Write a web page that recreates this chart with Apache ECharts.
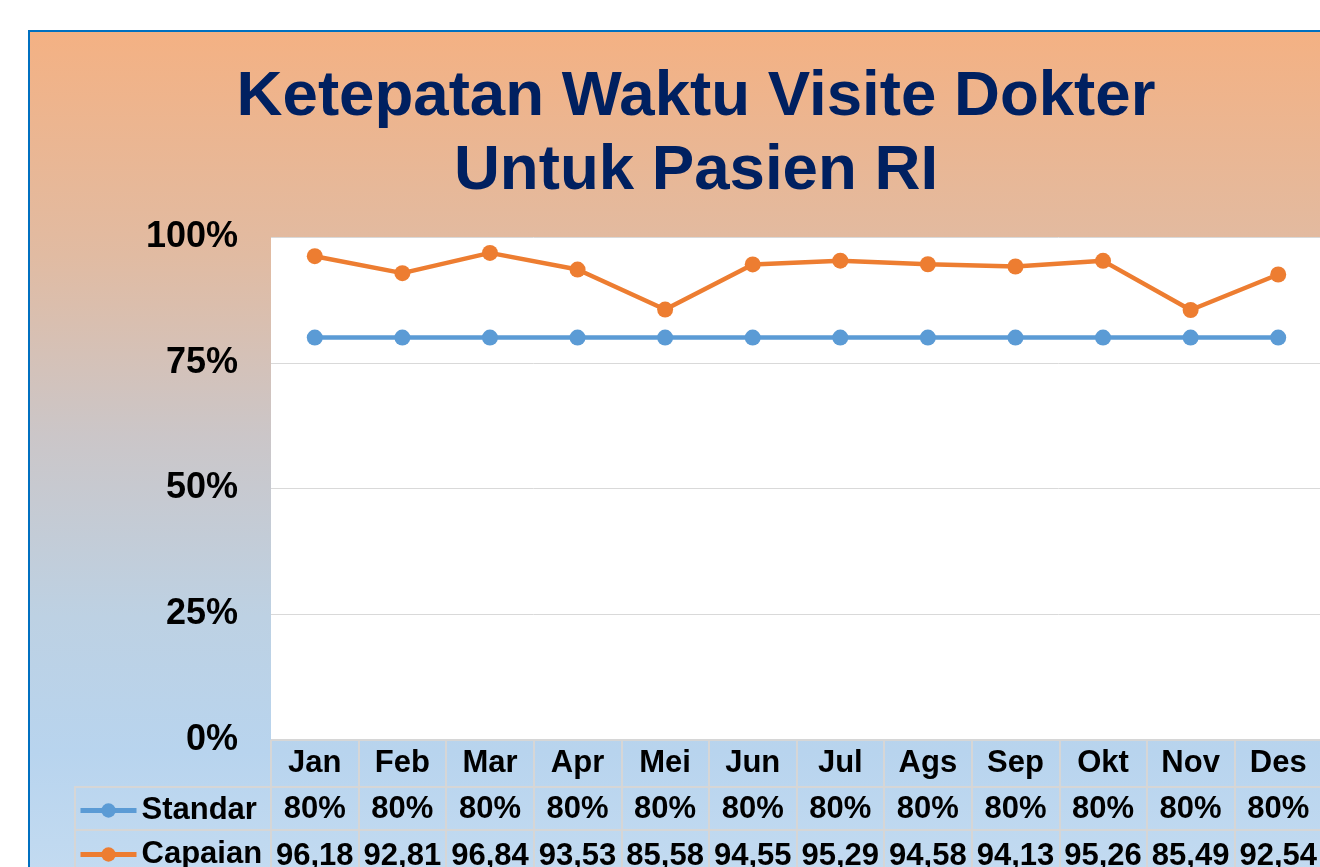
<!DOCTYPE html>
<html lang="id">

<head>
    <meta charset="UTF-8">
    <title>Ketepatan Waktu Visite Dokter</title>
    <script src="https://cdn.jsdelivr.net/npm/echarts@6/dist/echarts.min.js"></script>
    <style>
        html, body { margin: 0; padding: 0; background: #fff; }
        #main { width: 1320px; height: 867px; }
    </style>
</head>

<body>
    <div id="main"></div>
    <script>
        var bulan = ['Jan', 'Feb', 'Mar', 'Apr', 'Mei', 'Jun', 'Jul', 'Ags', 'Sep', 'Okt', 'Nov', 'Des'];
        var standar = [80, 80, 80, 80, 80, 80, 80, 80, 80, 80, 80, 80];
        var capaian = [96.18, 92.81, 96.84, 93.53, 85.58, 94.55, 95.29, 94.58, 94.13, 95.26, 85.49, 92.54];
        var yTicks = [0, 25, 50, 75, 100];

        var font = "'Liberation Sans', Arial, sans-serif";
        var cellLine = '#d6d6d6';

        var myChart = echarts.init(document.getElementById('main'));

        // baris tabel di bawah grafik (label sumbu tambahan)
        function rowAxis(offset, fmt) {
            return {
                type: 'category',
                gridIndex: 0,
                data: bulan,
                position: 'bottom',
                offset: offset,
                axisLine: { show: false },
                axisTick: { show: false },
                axisLabel: {
                    margin: 8,
                    interval: 0,
                    color: '#000',
                    fontFamily: font,
                    fontWeight: 'bold',
                    fontSize: 31,
                    formatter: fmt
                }
            };
        }

        var option = {
            animation: false,
            title: {
                text: 'Ketepatan Waktu Visite Dokter\nUntuk Pasien RI',
                left: 691,
                top: 55,
                textAlign: 'center',
                textStyle: {
                    color: '#002060',
                    fontFamily: font,
                    fontWeight: 'bold',
                    fontSize: 63.6,
                    lineHeight: 74
                }
            },
            graphic: [
                {
                    type: 'rect',
                    z: -10,
                    silent: true,
                    shape: { x: 29, y: 31, width: 1320, height: 900 },
                    style: {
                        fill: new echarts.graphic.LinearGradient(0, 0, 0, 1, [
                            { offset: 0, color: '#F4B183' },
                            { offset: 0.25, color: '#E1BBA2' },
                            { offset: 0.45, color: '#CBC6C8' },
                            { offset: 0.65, color: '#BDD1E3' },
                            { offset: 0.8, color: '#B8D4EE' },
                            { offset: 1, color: '#C8DEF2' }
                        ]),
                        stroke: '#0070C0',
                        lineWidth: 2
                    }
                },
                // kotak label baris kiri
                {
                    type: 'rect',
                    silent: true,
                    shape: { x: 75, y: 787, width: 196, height: 120 },
                    style: { fill: 'none', stroke: cellLine, lineWidth: 2 }
                },
                {
                    type: 'line',
                    silent: true,
                    shape: { x1: 75, y1: 787, x2: 1320, y2: 787 },
                    style: { stroke: cellLine, lineWidth: 2 }
                },
                {
                    type: 'line',
                    silent: true,
                    shape: { x1: 75, y1: 830, x2: 1320, y2: 830 },
                    style: { stroke: cellLine, lineWidth: 2 }
                }
            ],
            legend: {
                orient: 'vertical',
                left: 78,
                top: 795,
                padding: 0,
                height: 120,
                itemGap: 13,
                itemWidth: 56,
                itemHeight: 18,
                data: ['Standar', 'Capaian'],
                lineStyle: { width: 5 },
                textStyle: {
                    color: '#000',
                    fontFamily: font,
                    fontWeight: 'bold',
                    fontSize: 31
                }
            },
            grid: [
                {
                    left: 271, top: 237, width: 1051, height: 503,
                    outerBoundsMode: 'none',
                    show: true, backgroundColor: '#fff', borderWidth: 0
                },
                {
                    left: 271, top: 740, width: 1051, height: 170,
                    outerBoundsMode: 'none',
                    show: false
                }
            ],
            xAxis: [
                rowAxis(0, function (v) { return v; }),
                rowAxis(46, function (v, i) { return standar[i] + '%'; }),
                rowAxis(93, function (v, i) { return capaian[i].toFixed(2).replace('.', ','); }),
                {
                    type: 'category',
                    gridIndex: 1,
                    data: bulan,
                    axisLine: { show: false },
                    axisTick: { show: false },
                    axisLabel: { show: false },
                    splitLine: { show: true, lineStyle: { color: cellLine, width: 2 } }
                }
            ],
            yAxis: [
                {
                    type: 'value',
                    gridIndex: 0,
                    min: yTicks[0],
                    max: yTicks[yTicks.length - 1],
                    interval: 25,
                    axisLine: { show: false },
                    axisTick: { show: false },
                    axisLabel: {
                        margin: 33,
                        padding: [6, 0, 0, 0],
                        formatter: '{value}%',
                        color: '#000',
                        fontFamily: font,
                        fontWeight: 'bold',
                        fontSize: 36
                    },
                    splitLine: { lineStyle: { color: '#d9d9d9', width: 1 } }
                },
                {
                    type: 'value',
                    gridIndex: 1,
                    min: 0,
                    max: 1,
                    interval: 1,
                    axisLine: { show: false },
                    axisTick: { show: false },
                    axisLabel: { show: false },
                    splitLine: { show: true, lineStyle: { color: cellLine, width: 2 } }
                }
            ],
            series: [
                {
                    name: 'Standar',
                    type: 'line',
                    xAxisIndex: 0,
                    yAxisIndex: 0,
                    data: standar,
                    color: '#5B9BD5',
                    symbol: 'circle',
                    symbolSize: 16,
                    lineStyle: { width: 4.5 }
                },
                {
                    name: 'Capaian',
                    type: 'line',
                    xAxisIndex: 0,
                    yAxisIndex: 0,
                    data: capaian,
                    color: '#ED7D31',
                    symbol: 'circle',
                    symbolSize: 16,
                    lineStyle: { width: 4.5 }
                }
            ]
        };

        myChart.setOption(option);
    </script>
</body>

</html>
